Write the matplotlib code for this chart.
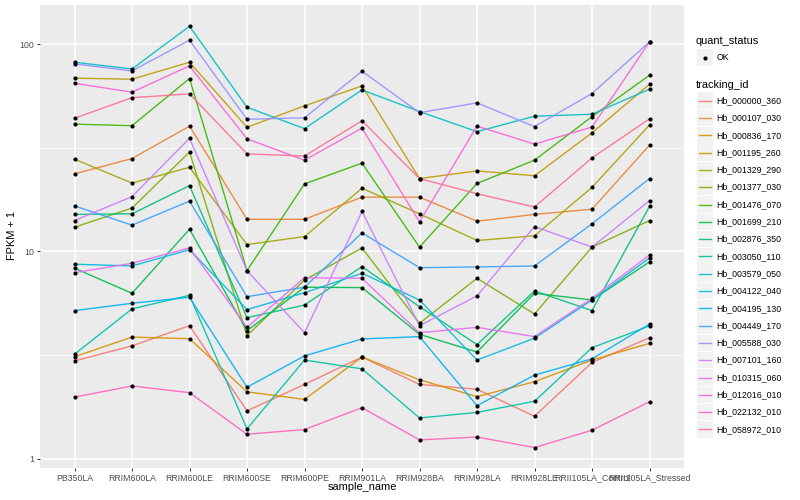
import matplotlib.pyplot as plt
from matplotlib.patches import Rectangle
from matplotlib.lines import Line2D
from matplotlib.ticker import FixedLocator, NullFormatter

plt.rcParams['font.family'] = ['Liberation Sans', 'DejaVu Sans']

samples = ['PB350LA', 'RRIM600LA', 'RRIM600LE', 'RRIM600SE', 'RRIM600PE',
           'RRIM901LA', 'RRIM928BA', 'RRIM928LA', 'RRIM928LE',
           'RRII105LA_Control', 'RRII105LA_Stressed']

tracking_ids = ['Hb_000000_360', 'Hb_000107_030', 'Hb_000836_170', 'Hb_001195_260',
                'Hb_001329_290', 'Hb_001377_030', 'Hb_001476_070', 'Hb_001699_210',
                'Hb_002876_350', 'Hb_003050_110', 'Hb_003579_050', 'Hb_004122_040',
                'Hb_004195_130', 'Hb_004449_170', 'Hb_005588_030', 'Hb_007101_160',
                'Hb_010315_060', 'Hb_012016_010', 'Hb_022132_010', 'Hb_058972_010']

# FPKM + 1 per gene, one value per sample
hb_000000_360 = [2.96, 3.50, 4.38, 1.70, 2.28, 3.09, 2.28, 2.16, 1.60, 2.91, 3.83]
hb_000107_030 = [23.7, 28.1, 40.3, 14.3, 14.3, 18.3, 18.3, 14.0, 15.1, 16.0, 32.6]
hb_000836_170 = [3.10, 3.86, 3.79, 2.10, 1.93, 3.09, 2.40, 1.99, 2.35, 2.99, 3.60]
hb_001195_260 = [68.7, 67.9, 82.0, 39.8, 50.5, 63.0, 22.5, 24.5, 23.2, 37.4, 64.2]
hb_001329_290 = [27.9, 21.4, 25.5, 10.8, 11.8, 20.2, 15.2, 11.3, 11.9, 20.4, 40.8]
hb_001377_030 = [13.1, 16.2, 30.2, 3.92, 7.28, 10.4, 4.50, 7.42, 4.99, 10.5, 14.1]
hb_001476_070 = [41.2, 40.5, 68.4, 8.08, 21.2, 26.7, 10.5, 21.3, 27.6, 44.8, 71.0]
hb_001699_210 = [8.30, 6.28, 12.8, 4.14, 6.72, 6.69, 3.98, 3.27, 6.28, 5.83, 8.90]
hb_002876_350 = [15.1, 15.2, 20.8, 4.79, 5.51, 8.45, 5.41, 3.55, 6.45, 5.18, 16.5]
hb_003050_110 = [3.19, 5.28, 6.14, 1.39, 2.99, 2.71, 1.57, 1.67, 1.89, 3.43, 4.37]
hb_003579_050 = [82.0, 76.1, 122.4, 49.7, 39.2, 60.3, 47.4, 37.9, 45.0, 46.0, 60.8]
hb_004122_040 = [8.68, 8.51, 10.2, 5.24, 6.32, 7.85, 5.83, 2.99, 3.81, 5.83, 9.30]
hb_004195_130 = [5.18, 5.62, 6.01, 2.21, 3.13, 3.78, 3.88, 1.80, 2.53, 3.03, 4.46]
hb_004449_170 = [16.6, 13.4, 17.5, 6.05, 6.72, 12.3, 8.35, 8.42, 8.51, 13.6, 22.5]
hb_005588_030 = [80.5, 74.5, 104.8, 43.5, 44.2, 74.2, 46.8, 52.2, 40.1, 57.9, 102.8]
hb_007101_160 = [14.1, 18.4, 35.2, 8.08, 4.05, 15.6, 4.38, 6.10, 13.2, 10.5, 17.6]
hb_010315_060 = [7.90, 8.77, 10.4, 4.30, 7.47, 7.42, 4.05, 4.30, 3.88, 5.94, 9.62]
hb_012016_010 = [64.9, 58.8, 78.7, 35.0, 27.6, 39.4, 13.9, 40.3, 33.0, 39.9, 102.8]
hb_022132_010 = [1.98, 2.24, 2.08, 1.31, 1.38, 1.76, 1.23, 1.27, 1.13, 1.37, 1.88]
hb_058972_010 = [44.0, 55.3, 57.7, 29.6, 28.9, 42.8, 22.5, 19.0, 16.4, 28.3, 43.7]

series = [hb_000000_360, hb_000107_030, hb_000836_170, hb_001195_260, hb_001329_290,
          hb_001377_030, hb_001476_070, hb_001699_210, hb_002876_350, hb_003050_110,
          hb_003579_050, hb_004122_040, hb_004195_130, hb_004449_170, hb_005588_030,
          hb_007101_160, hb_010315_060, hb_012016_010, hb_022132_010, hb_058972_010]

# ggplot2 default hue palette for 20 levels
palette = ['#F8766D', '#EA8331', '#D89000', '#C09B00', '#A3A500', '#7CAE00', '#39B600',
           '#00BB4E', '#00BF7D', '#00C1A3', '#00BFC4', '#00BAE0', '#00B0F6', '#35A2FF',
           '#9590FF', '#C77CFF', '#E76BF3', '#FA62DB', '#FF62BC', '#FF6C91']

W, H = 800, 500
fig = plt.figure(figsize=(W / 100, H / 100), dpi=100)
ax = fig.add_axes([40 / W, 1 - 468 / H, (684 - 40) / W, (468 - 5) / H])
ax.set_facecolor('#EBEBEB')

xs = list(range(len(samples)))
for vals, col in zip(series, palette):
    ax.plot(xs, vals, color=col, lw=1.0, alpha=0.9, zorder=2)
for vals in series:
    ax.plot(xs, vals, 'o', color='black', ms=3, mec='none', zorder=3)

ax.set_yscale('log')
ax.set_xlim(-0.6, 10.6)
ax.set_ylim(0.9, 155)
ax.set_yticks([1, 10, 100])
ax.set_yticklabels(['1', '10', '100'])
ax.yaxis.set_minor_locator(FixedLocator([10 ** 0.5, 10 ** 1.5]))
ax.yaxis.set_minor_formatter(NullFormatter())
ax.set_xticks(xs)
ax.set_xticklabels(samples)

ax.grid(which='major', color='white', lw=1.1)
ax.grid(which='minor', axis='y', color='white', lw=0.55)
ax.set_axisbelow(True)
for s in ax.spines.values():
    s.set_visible(False)
ax.tick_params(which='major', length=2.5, width=0.7, color='#333333',
               labelsize=6.3, labelcolor='#4D4D4D', pad=1.5)
ax.tick_params(which='minor', length=0)

fig.text(362 / W, 1 - 487 / H, 'sample_name', fontsize=7.9, ha='center', va='center')
fig.text(12 / W, 1 - 236 / H, 'FPKM + 1', fontsize=7.9, ha='center', va='center',
         rotation=90)

# legends, drawn ggplot style on the right
def fx(px):
    return px / W

def fy(py):
    return 1 - py / H

key = 16.5
fig.text(fx(696), fy(40.7), 'quant_status', fontsize=7.9, va='center')
fig.patches.append(Rectangle((fx(696.7), fy(57.5 + key / 2)), key / W, key / H,
                             transform=fig.transFigure, facecolor='#F2F2F2',
                             edgecolor='none'))
fig.lines.append(Line2D([fx(704.9)], [fy(57.5)], marker='o', ms=3, color='black',
                        mec='none', transform=fig.transFigure))
fig.text(fx(716.7), fy(57.5), 'OK', fontsize=6.3, va='center')

fig.text(fx(696), fy(85), 'tracking_id', fontsize=7.9, va='center')
for i, (name, col) in enumerate(zip(tracking_ids, palette)):
    cy = 100.7 + 17.3 * i
    fig.patches.append(Rectangle((fx(696.7), fy(cy + key / 2)), key / W, key / H,
                                 transform=fig.transFigure, facecolor='#F2F2F2',
                                 edgecolor='none'))
    fig.lines.append(Line2D([fx(698.5), fx(711)], [fy(cy), fy(cy)], color=col, lw=1.0,
                            alpha=0.9, transform=fig.transFigure))
    fig.text(fx(716.7), fy(cy), name, fontsize=6.3, va='center')

fig.savefig('out.png', dpi=100)
